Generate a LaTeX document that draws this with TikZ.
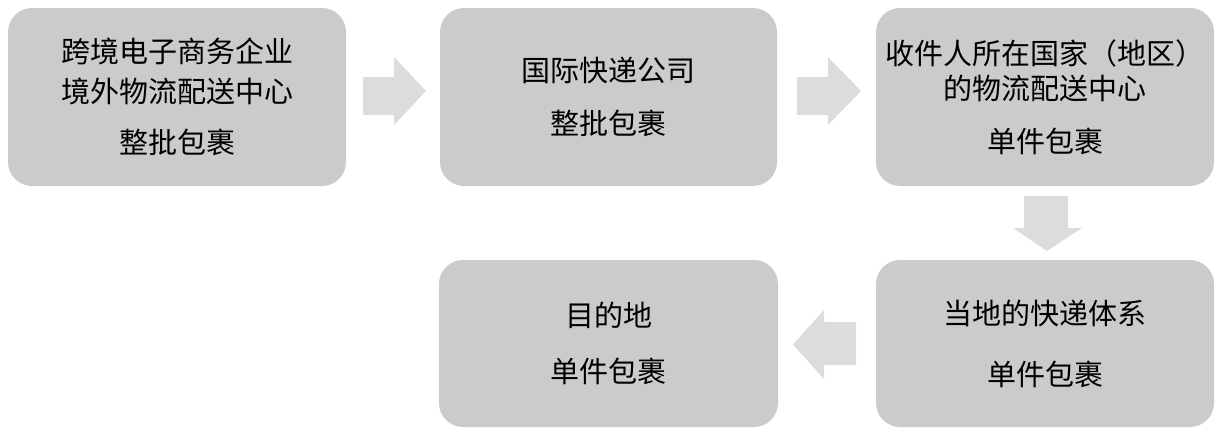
\documentclass[tikz,border=0pt]{standalone}
\usepackage{fontspec}
\setmainfont{Noto Sans CJK SC}
\tikzset{
  box/.style={fill=boxgray, rounded corners=24pt, align=center, inner sep=0pt, text=black},
  blockarrow/.style={fill=arrowgray, draw=none}
}
\definecolor{boxgray}{HTML}{CBCBCB}
\definecolor{arrowgray}{HTML}{DCDCDC}
\begin{document}
\begin{tikzpicture}[x=1pt,y=-1pt]
\useasboundingbox (0,0) rectangle (1220,431);
\node[box, minimum width=338, minimum height=178, font={\fontsize{29}{40}\selectfont}] (b1) at (177,97)
  {跨境电子商务企业\\境外物流配送中心\\[11pt]整批包裹};
\node[box, minimum width=337, minimum height=178, font={\fontsize{29}{40}\selectfont}] (b2) at (608.5,97)
  {国际快递公司\\[13pt]整批包裹};
\node[box, minimum width=338, minimum height=178, font={\fontsize{29}{35}\selectfont}] (b3) at (1045,97)
  {收件人所在国家（地区）\\的物流配送中心\\[18pt]单件包裹};
\node[box, minimum width=338, minimum height=167, font={\fontsize{29}{40}\selectfont}] (b4) at (1045,343.5)
  {当地的快递体系\\[21pt]单件包裹};
\node[box, minimum width=339, minimum height=167, font={\fontsize{29}{40}\selectfont}] (b5) at (608.5,343.5)
  {目的地\\[16pt]单件包裹};
% block arrows
\fill[blockarrow] (363,77) -- (394,77) -- (394,57) -- (426,91) -- (394,125) -- (394,115) -- (363,115) -- cycle;
\fill[blockarrow] (797,77) -- (828,77) -- (828,57) -- (861,91) -- (828,125) -- (828,115) -- (797,115) -- cycle;
\fill[blockarrow] (1024,196) -- (1068,196) -- (1068,228) -- (1082,228) -- (1047,251) -- (1013,228) -- (1024,228) -- cycle;
\fill[blockarrow] (856,322) -- (824,322) -- (824,310) -- (793,344.5) -- (824,379) -- (824,365) -- (856,365) -- cycle;
\end{tikzpicture}
\end{document}
